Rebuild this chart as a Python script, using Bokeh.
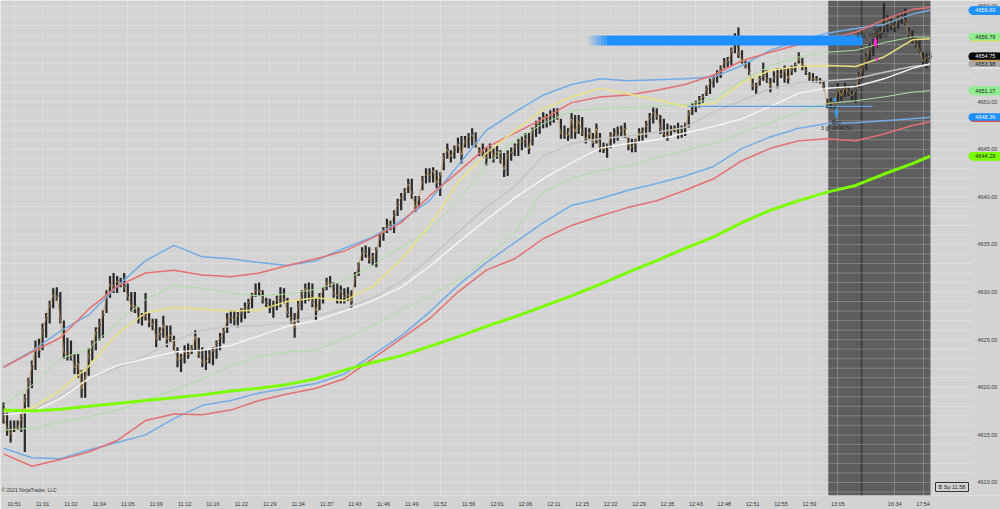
from bokeh.plotting import figure
from bokeh.models import FixedTicker, Span, Range1d, BoxAnnotation
from bokeh.embed import file_html
from bokeh.resources import INLINE
from bokeh.core.properties import value

# ---------------- data: one OHLC-style bar per index ----------------
H = [4618.4,4617.6,4616.5,4616.5,4616.5,4617.2,4619.3,4621.0,4622.8,4624.9,
     4625.1,4626.7,4627.8,4629.1,4630.4,4630.5,4630.0,4627.0,4625.2,4624.9,
     4623.5,4623.5,4621.8,4621.6,4624.1,4624.9,4626.3,4627.2,4628.1,4630.2,
     4631.7,4632.0,4631.7,4631.5,4632.0,4630.9,4630.0,4630.0,4628.4,4627.8,
     4629.9,4627.8,4627.2,4627.2,4626.3,4627.5,4626.5,4626.5,4625.4,4624.2,
     4623.5,4624.4,4624.6,4624.4,4626.0,4625.2,4624.2,4623.9,4623.9,4624.2,
     4624.9,4625.7,4626.3,4627.8,4628.1,4628.1,4627.9,4628.3,4628.9,4629.3,
     4629.9,4630.9,4631.0,4630.2,4629.4,4629.3,4629.1,4629.6,4630.5,4630.4,
     4629.4,4628.4,4627.8,4629.1,4630.2,4630.9,4631.0,4630.9,4629.4,4629.9,
     4630.5,4631.5,4631.7,4631.0,4630.9,4630.7,4630.4,4630.5,4630.2,4632.1,
     4633.1,4634.7,4634.9,4634.7,4634.1,4634.7,4636.2,4636.8,4637.7,4637.5,
     4638.6,4639.8,4640.4,4640.9,4641.9,4641.9,4640.1,4640.1,4642.2,4643.0,
     4643.0,4643.1,4642.8,4642.6,4644.6,4645.6,4644.9,4645.4,4646.2,4646.4,
     4646.4,4646.7,4647.2,4646.8,4645.2,4645.6,4645.2,4645.6,4645.2,4645.4,
     4644.9,4644.6,4644.9,4645.2,4645.6,4646.1,4646.4,4646.7,4646.7,4647.3,
     4648.0,4648.4,4648.9,4648.7,4649.1,4649.3,4649.3,4648.2,4647.5,4647.2,
     4648.8,4648.6,4648.6,4648.4,4647.3,4647.2,4646.7,4647.7,4646.7,4645.7,
     4645.6,4646.8,4647.2,4647.4,4647.5,4647.8,4646.2,4646.1,4646.1,4647.2,
     4647.3,4648.0,4648.8,4649.4,4649.3,4648.6,4648.2,4647.7,4647.5,4647.5,
     4647.8,4647.5,4647.8,4649.1,4649.9,4650.1,4650.6,4650.8,4651.7,4652.4,
     4652.8,4653.3,4653.8,4654.6,4654.7,4655.7,4657.2,4657.8,4655.4,4654.3,
     4654.2,4652.5,4652.0,4652.7,4654.1,4653.3,4652.5,4653.2,4653.5,4653.5,
     4653.8,4653.5,4653.8,4654.1,4655.2,4654.6,4653.8,4653.1,4653.0,4652.7,
     4652.5,4652.2,4650.3,4650.4,4650.4,4652.0,4651.2,4652.0,4651.7,4651.2,
     4651.7,4653.1,4654.0,4655.1,4656.1,4656.6,4657.5,4657.8,4660.4,4659.1,
     4658.7,4658.5,4659.1,4659.4,4659.8,4657.8,4657.5,4656.7,4656.6,4655.2,
     4655.1,4655.2]
L = [4616.2,4614.9,4614.2,4615.3,4615.5,4615.3,4613.2,4617.9,4619.9,4621.8,
     4623.1,4623.9,4625.2,4626.7,4628.3,4629.1,4626.7,4623.0,4622.8,4622.8,
     4621.4,4621.0,4618.9,4618.9,4621.2,4622.8,4623.9,4624.9,4625.2,4627.8,
     4629.4,4629.9,4629.9,4630.5,4630.0,4629.1,4627.9,4627.8,4626.7,4626.5,
     4627.0,4626.3,4626.0,4624.2,4624.9,4625.2,4624.2,4624.7,4623.9,4622.1,
     4621.6,4622.5,4623.0,4623.5,4623.9,4623.1,4622.1,4621.8,4622.5,4622.3,
     4623.0,4623.9,4624.6,4625.7,4626.7,4626.5,4626.3,4626.8,4627.2,4627.8,
     4628.3,4629.5,4629.6,4628.8,4628.4,4627.8,4627.3,4628.1,4628.4,4628.8,
     4627.3,4626.7,4625.2,4626.8,4628.1,4628.8,4629.1,4628.4,4627.0,4628.1,
     4628.8,4630.2,4630.5,4629.4,4628.8,4628.8,4628.8,4629.1,4628.3,4630.5,
     4631.7,4633.3,4633.6,4633.0,4632.8,4632.6,4634.7,4635.4,4636.2,4636.5,
     4636.2,4638.0,4638.6,4639.6,4640.4,4639.8,4638.4,4638.9,4640.7,4641.4,
     4641.5,4641.5,4640.9,4640.1,4642.8,4644.0,4643.6,4644.0,4644.6,4643.5,
     4645.2,4645.1,4645.4,4645.2,4644.3,4644.1,4643.3,4644.0,4643.6,4644.0,
     4643.5,4642.1,4642.2,4643.8,4644.3,4644.3,4644.9,4645.2,4644.5,4645.4,
     4646.3,4646.6,4647.2,4647.3,4647.5,4647.8,4648.1,4646.1,4646.1,4645.9,
     4646.1,4646.1,4646.6,4646.4,4645.6,4646.1,4645.2,4645.6,4644.7,4644.6,
     4644.1,4645.1,4645.6,4645.9,4646.3,4646.2,4644.9,4644.7,4644.7,4645.8,
     4645.9,4646.2,4646.8,4647.7,4648.1,4646.6,4646.1,4645.9,4646.4,4646.8,
     4646.1,4646.2,4646.4,4647.3,4648.6,4648.9,4649.4,4649.9,4650.6,4650.8,
     4651.5,4652.0,4652.5,4653.5,4653.6,4653.8,4655.1,4654.6,4654.0,4653.5,
     4652.8,4651.2,4650.8,4651.7,4652.2,4652.0,4651.0,4652.0,4651.4,4652.5,
     4652.0,4651.9,4652.8,4653.1,4654.0,4653.3,4652.8,4652.2,4652.0,4652.0,
     4651.9,4651.2,4649.3,4649.3,4649.3,4649.8,4650.1,4650.5,4650.6,4650.1,
     4649.9,4651.5,4652.4,4653.3,4654.1,4654.8,4655.7,4656.6,4657.3,4657.3,
     4657.5,4657.3,4657.7,4658.2,4658.0,4656.6,4656.1,4655.7,4655.1,4653.8,
     4653.5,4654.5]
C = [4617.0,4615.6,4615.0,4615.8,4615.6,4616.8,4618.8,4620.6,4622.2,4624.2,
     4623.8,4626.0,4627.3,4628.6,4629.8,4629.6,4627.2,4623.6,4623.6,4623.4,
     4622.0,4622.6,4619.8,4620.8,4623.4,4624.4,4625.8,4626.6,4627.6,4629.6,
     4630.9,4630.6,4631.2,4630.8,4630.6,4629.6,4628.4,4628.6,4627.2,4627.4,
     4627.6,4626.8,4626.8,4625.0,4625.6,4626.6,4625.0,4625.6,4624.4,4622.8,
     4623.0,4623.8,4623.4,4624.0,4625.4,4623.6,4622.6,4622.6,4623.4,4623.8,
     4624.6,4625.2,4625.8,4627.2,4627.4,4627.0,4627.6,4627.8,4628.4,4628.8,
     4629.6,4630.2,4630.2,4629.2,4628.8,4628.4,4628.6,4629.2,4629.8,4629.2,
     4627.8,4627.2,4626.2,4628.6,4629.6,4630.4,4630.2,4629.0,4628.0,4629.4,
     4630.2,4631.0,4631.0,4629.8,4629.6,4630.2,4629.4,4629.8,4629.0,4631.6,
     4632.8,4634.2,4634.2,4633.4,4633.6,4634.4,4635.8,4636.4,4637.0,4637.0,
     4638.2,4639.2,4640.0,4640.4,4641.4,4640.4,4638.9,4639.8,4641.8,4642.4,
     4642.2,4642.8,4641.4,4642.2,4644.2,4645.0,4644.2,4645.0,4645.6,4644.4,
     4646.0,4646.2,4646.6,4645.6,4644.8,4644.6,4644.0,4645.2,4644.2,4644.8,
     4644.0,4642.8,4644.4,4644.6,4645.2,4645.8,4645.8,4646.2,4645.0,4647.0,
     4647.6,4647.8,4648.4,4648.0,4648.6,4648.8,4648.6,4646.6,4646.6,4646.4,
     4648.2,4646.8,4648.0,4646.8,4646.0,4646.8,4645.6,4647.2,4645.2,4645.0,
     4645.2,4646.4,4646.8,4646.4,4647.0,4647.2,4645.4,4645.2,4645.8,4646.8,
     4646.6,4647.6,4648.2,4648.9,4648.6,4647.2,4646.6,4646.4,4647.0,4647.2,
     4646.6,4647.0,4647.4,4648.8,4649.6,4649.6,4650.2,4650.4,4651.4,4652.0,
     4652.4,4652.8,4653.4,4654.2,4654.2,4655.2,4656.6,4655.0,4654.4,4653.8,
     4653.2,4651.6,4651.6,4652.4,4652.8,4652.4,4651.6,4652.6,4653.0,4652.8,
     4653.4,4652.4,4653.4,4653.8,4654.6,4653.8,4653.2,4652.6,4652.4,4652.4,
     4652.2,4651.6,4649.6,4650.0,4649.6,4651.4,4650.6,4651.6,4651.0,4650.6,
     4651.2,4652.6,4653.6,4654.6,4655.6,4656.0,4657.2,4657.2,4658.0,4658.6,
     4658.0,4657.8,4658.8,4659.0,4658.4,4657.0,4656.6,4656.0,4655.4,4654.2,
     4654.6,4654.75]
BARS = list(range(len(H)))

# ---------------- indicator series, sampled every 8 bars ----------------
LINE_BARS = [0, 8, 16, 24, 32, 40, 48, 56, 64, 72, 80, 88, 96, 104, 112, 120, 128,
             136, 144, 152, 160, 168, 176, 184, 192, 200, 208, 216, 224, 232, 240,
             248, 256, 261]
SLOW_MA = [4617.6,4617.5,4617.7,4618.0,4618.3,4618.6,4618.9,4619.2,4619.6,4619.9,
           4620.3,4620.9,4621.8,4622.6,4623.3,4624.3,4625.3,4626.4,4627.4,4628.5,
           4629.6,4630.8,4632.1,4633.3,4634.6,4635.8,4637.3,4638.6,4639.6,4640.5,
           4641.2,4642.4,4643.5,4644.29]
BLUE_UPPER = [4622.1,4623.8,4625.9,4627.6,4630.6,4633.3,4634.9,4633.7,4633.5,4633.1,
              4632.8,4633.3,4634.6,4635.8,4637.5,4639.6,4643.3,4647.0,4648.9,4650.7,
              4651.8,4652.4,4652.2,4652.3,4652.4,4652.6,4653.8,4655.4,4656.4,4657.2,
              4657.7,4658.1,4659.2,4659.60]
RED_UPPER = [4622.1,4623.7,4625.2,4628.2,4630.6,4632.0,4632.3,4631.8,4631.6,4632.0,
             4632.8,4633.5,4634.3,4635.7,4637.3,4640.1,4642.6,4645.2,4646.7,4648.2,
             4649.9,4650.5,4650.7,4651.2,4651.8,4652.8,4654.3,4655.2,4656.0,4656.6,
             4657.3,4658.6,4659.7,4659.9]
YELLOW_MA = [4617.4,4617.8,4619.7,4622.2,4625.6,4627.8,4628.4,4628.2,4628.0,4628.1,
             4629.0,4629.4,4629.1,4630.6,4633.4,4637.0,4641.5,4644.6,4646.9,4649.2,
             4650.5,4651.4,4650.8,4650.2,4649.5,4649.8,4652.0,4653.3,4653.7,4653.8,
             4653.7,4654.7,4656.5,4656.6]
GREEN_UPPER = [4618.1,4620.2,4623.0,4624.0,4626.8,4629.2,4630.7,4630.4,4629.9,4629.6,
               4629.8,4630.3,4631.2,4632.8,4634.7,4636.5,4639.6,4643.4,4645.9,4647.7,
               4649.0,4649.3,4649.4,4649.5,4649.7,4650.3,4652.2,4653.8,4654.7,4655.2,
               4655.4,4656.2,4656.8,4656.79]
GRAY_MA = [4617.4,4617.6,4619.1,4620.9,4622.0,4623.3,4624.9,4626.0,4626.4,4626.5,
           4626.8,4627.5,4628.3,4629.4,4631.1,4633.5,4636.3,4638.9,4641.1,4644.3,
           4645.6,4646.1,4646.4,4646.8,4647.3,4648.9,4650.1,4651.4,4652.0,4652.2,
           4652.4,4653.1,4653.7,4653.9]
WHITE_MA = [4617.1,4617.4,4618.8,4620.9,4622.3,4623.0,4623.7,4623.9,4624.4,4625.4,
            4626.4,4627.0,4628.0,4629.1,4630.5,4632.7,4635.2,4637.6,4639.9,4641.9,
            4643.6,4645.1,4645.6,4646.0,4646.7,4647.4,4648.2,4649.5,4650.9,4651.4,
            4651.6,4652.4,4653.5,4653.98]
GREEN_LOWER = [4615.5,4615.7,4616.3,4616.9,4617.6,4618.6,4619.7,4620.9,4622.2,4623.2,
               4623.7,4623.9,4625.1,4626.5,4628.1,4629.6,4631.2,4633.5,4636.3,4640.5,
               4641.9,4642.8,4643.3,4644.1,4644.9,4645.6,4646.8,4647.8,4648.9,4649.8,
               4650.1,4650.5,4651.0,4651.17]
BLUE_LOWER = [4613.6,4612.6,4612.5,4613.4,4614.2,4615.0,4616.7,4618.1,4618.6,4619.4,
              4619.9,4620.4,4621.4,4623.4,4625.4,4627.9,4630.7,4633.1,4635.2,4637.3,
              4639.1,4639.8,4640.7,4641.4,4642.2,4643.2,4645.1,4646.3,4647.2,4647.7,
              4647.8,4648.0,4648.2,4648.36]
RED_LOWER = [4613.0,4611.7,4612.4,4613.2,4614.4,4616.5,4617.2,4617.1,4617.6,4618.6,
             4619.3,4619.9,4620.9,4623.0,4625.1,4627.2,4630.0,4632.3,4633.5,4635.6,
             4637.0,4638.0,4638.9,4639.6,4640.7,4641.9,4643.8,4645.1,4645.9,4646.1,
             4645.9,4646.6,4647.5,4647.9]

# ---------------- axis ticks ----------------
TICK_BARS = [3, 11, 19, 27, 35, 43, 51, 59, 67, 75, 83, 91, 99, 107, 115, 123, 131,
             139, 147, 155, 163, 171, 179, 187, 195, 203, 211, 219, 227, 235, 251, 259]
TICK_LABELS = ["10:51", "11:01", "11:02", "11:04", "11:05", "11:09", "11:12", "11:16",
               "11:22", "11:29", "11:34", "11:37", "11:43", "11:46", "11:49", "11:52",
               "11:56", "12:01", "12:06", "12:11", "12:15", "12:22", "12:29", "12:35",
               "12:43", "12:48", "12:51", "12:55", "12:59", "13:05", "16:34", "17:54"]
PRICE_TICKS = [4610, 4615, 4620, 4625, 4630, 4635, 4640, 4645, 4650, 4655, 4660]

# ---------------- session / trade annotations ----------------
SESSION_START_BAR = 232.3
SESSION_BREAK_BAR = 241.7
ZONE_START, ZONE_END, ZONE_LOW, ZONE_HIGH = 164.8, 242.0, 4655.9, 4656.95
ENTRY_LINE_START, ENTRY_LINE_END, ENTRY_PRICE = 192.7, 244.8, 4649.5
BUY_BAR, SELL_BAR = 234.6, 245.6
BUY_TEXT = ["Buy", "3 @ 4649.50"]
SELL_TEXT = ["Sell", "3 @ 4656.50"]

TAG_VALUES = [4659.60, 4656.79, 4654.75, 4653.98, 4651.17, 4648.36, 4644.29]
TAG_LABELS = ["4659.60", "4656.79", "4654.75", "4653.98", "4651.17", "4648.36", "4644.29"]
TAG_FILL = ["#1e90ff", "#90ee90", "#000000", "#a9a9a9", "#90ee90", "#1e90ff", "#7cfc00"]
TAG_TEXT = ["#eef6ff", "#1a1a1a", "#ffffff", "#1a1a1a", "#1a1a1a", "#eef6ff", "#1a1a1a"]
TAG_ACCENT = ["#1e90ff", "#e8dc70", "#d9a030", "#f4f4f4", "#90ee90", "#e04848", "#7cfc00"]
SPEED_TEXT = "B Sp 11.58"
COPYRIGHT = "\u00a9 2021 NinjaTrader, LLC"

FONT = "Liberation Sans"
BG = "#d3d3d3"

# layout: the frame spans the whole canvas width; the price panel lives on the right
X0 = -0.85
BAR_PER_PX = 261.95 / 930.0
def px(x):
    return X0 + x * BAR_PER_PX
Y_TOP = 4660.63
PX_PER_PT = 9.519
def py(y):
    return Y_TOP - y / PX_PER_PT

AXIS_EDGE = px(930)
TICK_END = px(972)
LABEL_X = px(977)

p = figure(width=1000, height=509, output_backend="svg", toolbar_location=None,
           x_range=Range1d(X0, px(1000)), y_range=Range1d(py(495), Y_TOP),
           min_border_left=0, min_border_top=0, min_border_right=0, min_border_bottom=14)
p.yaxis.visible = False
p.background_fill_color = BG
p.border_fill_color = BG
p.outline_line_color = None
p.ygrid.visible = False

p.xgrid.ticker = FixedTicker(ticks=TICK_BARS)
p.xgrid.grid_line_color = "#ffffff"
p.xgrid.grid_line_alpha = 0.22

xax = p.xaxis[0]
xax.ticker = FixedTicker(ticks=TICK_BARS)
xax.major_label_overrides = {b: t for b, t in zip(TICK_BARS, TICK_LABELS)}
xax.major_tick_out = 0
xax.major_tick_in = 0
xax.minor_tick_out = 0
xax.minor_tick_in = 0
xax.axis_line_color = None
xax.major_label_standoff = 5
xax.major_label_text_font = FONT
xax.major_label_text_font_size = "5.5px"
xax.major_label_text_color = "#333333"

# shaded session
p.add_layout(BoxAnnotation(left=SESSION_START_BAR, right=AXIS_EDGE, fill_color="#5e5e5e",
                           fill_alpha=1.0, line_color=None, level="image"))
p.add_layout(Span(location=SESSION_BREAK_BAR, dimension="height", line_color="#3a3a3a",
                  line_width=1.5, level="underlay"))

# horizontal price grid (every point) and the tick marks of the price panel
grid_prices = list(range(4609, 4661))
n = len(grid_prices)
p.segment(x0=[X0] * n, y0=grid_prices, x1=[AXIS_EDGE] * n, y1=grid_prices,
          line_color="#ffffff", line_alpha=0.22, line_width=1)
p.segment(x0=[AXIS_EDGE] * n, y0=grid_prices, x1=[TICK_END] * n, y1=grid_prices,
          line_color="#dedede", line_width=1)
p.add_layout(Span(location=AXIS_EDGE, dimension="height", line_color="#9a9a9a", line_width=1))

# bars
p.segment(x0=BARS, y0=L, x1=BARS, y1=H, line_color="#2a2a2a", line_width=2.2)
p.segment(x0=BARS, y0=C, x1=[b + 0.45 for b in BARS], y1=C, line_color="#2a2a2a", line_width=1)

# indicator lines
p.line(LINE_BARS, GREEN_LOWER, line_color="#a8e0a0", line_width=1)
p.line(LINE_BARS, GREEN_UPPER, line_color="#a8e0a0", line_width=1)
p.line(LINE_BARS, GRAY_MA, line_color="#c4c4c4", line_width=1.5)
p.line(LINE_BARS, WHITE_MA, line_color="#f4f4f4", line_width=1.5)
p.line(LINE_BARS, BLUE_LOWER, line_color="#72ace6", line_width=1.5)
p.line(LINE_BARS, RED_LOWER, line_color="#e47070", line_width=1.5)
p.line(LINE_BARS, BLUE_UPPER, line_color="#72ace6", line_width=1.5)
p.line(LINE_BARS, RED_UPPER, line_color="#e47070", line_width=1.5)
p.line(LINE_BARS, YELLOW_MA, line_color="#ece27e", line_width=1.5)
p.line(LINE_BARS, SLOW_MA, line_color="#7cfc00", line_width=3)
p.line(BARS, C, line_color="#c8964a", line_width=0.8, line_alpha=0.85)

# order line and zone
p.segment(x0=[ENTRY_LINE_START], y0=[ENTRY_PRICE], x1=[ENTRY_LINE_END], y1=[ENTRY_PRICE],
          line_color="#5aa0e8", line_width=1.2)
fade_steps = 6
fade_w = 5.0
for k in range(fade_steps):
    x0 = ZONE_START + k * fade_w / fade_steps
    p.quad(left=[x0], right=[x0 + fade_w / fade_steps], bottom=[ZONE_LOW], top=[ZONE_HIGH],
           fill_color="#1e90ff", fill_alpha=(k + 1) / (fade_steps + 1), line_color=None)
p.quad(left=[ZONE_START + fade_w], right=[ZONE_END], bottom=[ZONE_LOW], top=[ZONE_HIGH],
       fill_color="#1e90ff", fill_alpha=1.0, line_color=None)

# buy / sell markers
p.segment(x0=[BUY_BAR], y0=[4648.3], x1=[BUY_BAR], y1=[4648.9], line_color="#3aa0ff", line_width=2)
p.scatter(x=[BUY_BAR], y=[4649.0], marker="triangle", size=5, fill_color="#3aa0ff", line_color=None)
p.scatter(x=[BUY_BAR - 0.5], y=[4650.2], marker="square", size=3, fill_color="#3aa0ff", line_color=None)
p.segment(x0=[SELL_BAR], y0=[4655.8], x1=[SELL_BAR], y1=[4656.4], line_color="#ff2bd6", line_width=3)
p.scatter(x=[SELL_BAR], y=[4656.5], marker="triangle", size=4, fill_color="#ff2bd6", line_color=None)
p.scatter(x=[SELL_BAR + 0.4], y=[4654.5], marker="triangle", angle=1.5708, size=4,
          fill_color="#ff2bd6", line_color=None)
p.text(x=[BUY_BAR, BUY_BAR], y=[4647.9, 4647.2], text=BUY_TEXT, text_align="center",
       text_baseline="middle", text_font=value(FONT), text_font_size="5.5px", text_color="#2a2a2a")
p.text(x=[SELL_BAR + 0.5, SELL_BAR - 1.0], y=[4657.7, 4657.0], text=SELL_TEXT, text_align="center",
       text_baseline="middle", text_font=value(FONT), text_font_size="5.5px", text_color="#2a2a2a")

# price axis labels
p.text(x=[LABEL_X] * len(PRICE_TICKS), y=PRICE_TICKS, text=[f"{v:.2f}" for v in PRICE_TICKS],
       text_align="left", text_baseline="middle", text_font=value(FONT),
       text_font_size="5.5px", text_color="#3a3a3a")

# price tags (pills) on the price panel
half = 0.43
nt = len(TAG_VALUES)
p.quad(left=[px(972)] * nt, right=[px(1000)] * nt,
       bottom=[v - half for v in TAG_VALUES], top=[v + half for v in TAG_VALUES],
       fill_color=TAG_FILL, line_color=None)
p.scatter(x=[px(972)] * nt, y=TAG_VALUES, marker="circle", size=8, fill_color=TAG_FILL, line_color=None)
p.segment(x0=[px(971)] * nt, y0=[v - half for v in TAG_VALUES], x1=[px(1000)] * nt,
          y1=[v - half for v in TAG_VALUES], line_color=TAG_ACCENT, line_width=1.2)
p.text(x=[LABEL_X - 0.6] * nt, y=TAG_VALUES, text=TAG_LABELS, text_align="left",
       text_baseline="middle", text_font=value(FONT), text_font_size="5.5px", text_color=TAG_TEXT)

# speed box and copyright
p.quad(left=[px(935)], right=[px(968)], bottom=[py(491)], top=[py(482)],
       fill_color=BG, line_color="#333333", line_width=1)
p.text(x=[px(951.5)], y=[py(486.5)], text=[SPEED_TEXT], text_align="center", text_baseline="middle",
       text_font=value(FONT), text_font_size="5.5px", text_color="#222222")
p.text(x=[px(1)], y=[py(489)], text=[COPYRIGHT], text_align="left", text_baseline="middle",
       text_font=value(FONT), text_font_size="5px", text_color="#333333")

open("out.html", "w").write(file_html(p, INLINE))
